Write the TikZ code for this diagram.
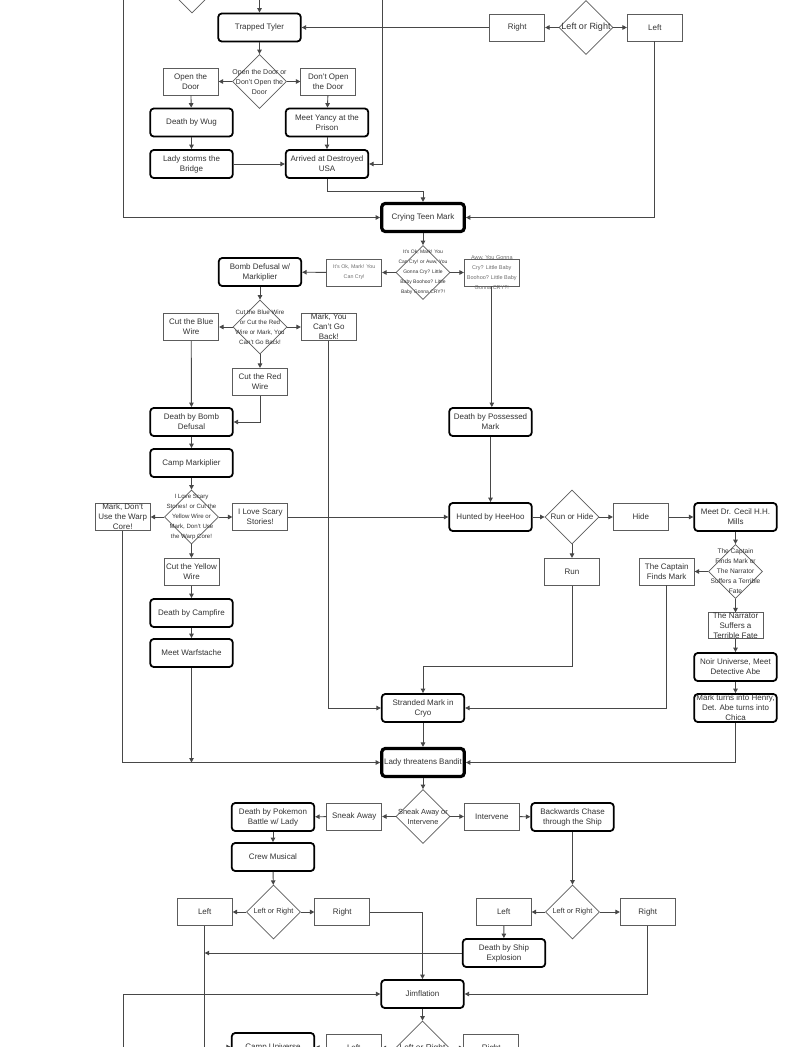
\documentclass[tikz,border=0pt]{standalone}
\usepackage{fontspec}
\setmainfont{Liberation Sans}
\usetikzlibrary{shapes.geometric,arrows.meta,positioning}
\definecolor{inkgray}{HTML}{333333}
\definecolor{linegray}{HTML}{474747}
\definecolor{boxgray}{HTML}{5C5C5C}
\definecolor{faintgray}{HTML}{6E6E6E}

\begin{document}
\begin{tikzpicture}[x=1pt,y=-1pt,
					>={Triangle[length=4.5pt,width=4.5pt]},
					node distance=13.5pt,
					box font/.style={font=\fontsize{8}{10}\selectfont,text=inkgray,align=center},
					plain node/.style={rectangle,draw=boxgray,line width=0.8pt,minimum width=55pt,minimum height=27pt,inner sep=1pt,box font},
					main node/.style={rectangle,rounded corners=3.5pt,draw=black,line width=1.8pt,minimum width=82.5pt,minimum height=28pt,inner sep=1pt,box font},
					big node/.style={main node,line width=3.2pt},
					dec node/.style={diamond,draw=boxgray,line width=0.8pt,minimum width=54pt,minimum height=54pt,inner sep=0pt},
					dec text/.style={align=center,text=inkgray,inner sep=0pt,font=\fontsize{#1}{10}\selectfont},
					link/.style={->,color=linegray,line width=0.9pt}]

  \useasboundingbox (0,0) rectangle (791,1047);
  \clip (0,0) rectangle (791,1047);
  \fill[white] (0,0) rectangle (791,1047);

  % top part, cut by the page edge
  \node[plain node] (TB1) at (123,-14) {};
  \node[dec node] (TD0) at (192,-14) {};
  \node[plain node] (TB2) at (259.5,-14) {};
  \coordinate (topin) at (382,0);

  \node[main node] (TT) at (259.5,27.5) {Trapped Tyler};
  \node[dec node,label={[dec text=9]center:Left or Right}] (D1) at (586,27.5) {};
  \node[plain node] (R1) [left=of D1] {Right};
  \node[plain node] (L1) [right=of D1] {Left};

  \node[dec node,label={[dec text=7]center:{Open the Door or\\Don't Open the\\Door}}] (DOOR) at (259.5,81.5) {};
  \node[plain node] (OPEN) [left=of DOOR] {Open the\\Door};
  \node[plain node] (DONT) [right=of DOOR] {Don't Open\\the Door};
  \node[main node] (WUG) at (191.5,122.5) {Death by Wug};
  \node[main node] (YANCY) at (327,122.5) {Meet Yancy at the\\Prison};
  \node[main node] (BRIDGE) at (191.5,164) {Lady storms the\\Bridge};
  \node[main node] (USA) at (327,164) {Arrived at Destroyed\\USA};

  \node[big node] (CTM) at (423,217.5) {Crying Teen Mark};
  \node[dec node,label={[dec text=5]center:{It's Ok, Mark! You\\Can Cry! or Aww, You\\Gonna Cry? Little\\Baby Boohoo? Little\\Baby Gonna CRY?!}}] (CRY) at (423,272.5) {};
  \node[plain node,label={[dec text=5.3,text=faintgray]center:{It's Ok, Mark! You\\Can Cry!}}] (OK) [left=of CRY] {};
  \node[plain node,label={[dec text=5.5,text=faintgray]center:{Aww, You Gonna\\Cry? Little Baby\\Boohoo? Little Baby\\Gonna CRY?!}}] (AWW) [right=of CRY] {};

  % bomb and camp
  \node[main node] (BOMB) at (260,272) {Bomb Defusal w/\\Markiplier};
  \node[dec node,label={[dec text=6.2]center:{Cut the Blue Wire\\or Cut the Red\\Wire or Mark, You\\Can't Go Back!}}] (WIRE) at (260,327) {};
  \node[plain node] (BLUE) [left=of WIRE] {Cut the Blue\\Wire};
  \node[plain node,label={[dec text=8]center:{Mark, You\\Can't Go\\Back!}}] (BACK) [right=of WIRE] {};
  \node[plain node] (RED) [below=of WIRE] {Cut the Red\\Wire};
  \node[main node] (DBOMB) at (191.5,422) {Death by Bomb\\Defusal};
  \node[main node] (CAMP) at (191.5,463) {Camp Markiplier};
  \node[dec node,label={[dec text=6.1]center:{I Love Scary\\Stories! or Cut the\\Yellow Wire or\\Mark, Don't Use\\the Warp Core!}}] (STORY) at (191.5,517) {};
  \node[plain node,label={[dec text=8]center:{Mark, Don't\\Use the Warp\\Core!}}] (WARP) [left=of STORY] {};
  \node[plain node] (SCARY) [right=of STORY] {I Love Scary\\Stories!};
  \node[plain node] (YELLOW) [below=of STORY] {Cut the Yellow\\Wire};
  \node[main node] (FIRE) at (191.5,613) {Death by Campfire};
  \node[main node] (WARF) at (191.5,653) {Meet Warfstache};

  % heehoo side
  \node[main node] (POSS) at (490.5,422) {Death by Possessed\\Mark};
  \node[main node] (HEEHOO) at (490.5,517) {Hunted by HeeHoo};
  \node[dec node,label={[dec text=8]center:Run or Hide}] (RUNHIDE) at (572,517) {};
  \node[plain node] (HIDE) [right=of RUNHIDE] {Hide};
  \node[plain node] (RUN) [below=of RUNHIDE] {Run};
  \node[main node] (CECIL) at (735.5,517) {Meet Dr. Cecil H.H.\\Mills};
  \node[dec node,label={[dec text=6.6]center:{The Captain\\Finds Mark or\\The Narrator\\Suffers a Terrible\\Fate}}] (FATE) at (735.5,571.5) {};
  \node[plain node] (CAPT) [left=of FATE] {The Captain\\Finds Mark};
  \node[plain node,minimum height=26pt,label={[dec text=8]center:{The Narrator\\Suffers a\\Terrible Fate}}] (NARR) [below=of FATE] {};
  \node[main node] (NOIR) at (735.5,667) {Noir Universe, Meet\\Detective Abe};
  \node[main node,label={[dec text=8]center:{Mark turns into Henry,\\Det. Abe turns into\\Chica}}] (HENRY) at (735.5,708) {};

  \node[main node] (CRYO) at (423,708) {Stranded Mark in\\Cryo};
  \node[big node] (BANDIT) at (423,762.5) {Lady threatens Bandit};

  % ship
  \node[dec node,label={[dec text=7.4]center:{Sneak Away or\\Intervene}}] (SNEAKD) at (423,816.5) {};
  \node[plain node] (SNEAK) [left=of SNEAKD] {Sneak Away};
  \node[plain node] (INTER) [right=of SNEAKD] {Intervene};
  \node[main node] (POKE) at (273,817) {Death by Pokemon\\Battle w/ Lady};
  \node[main node] (CHASE) at (572.5,817) {Backwards Chase\\through the Ship};
  \node[main node] (CREW) at (273,857) {Crew Musical};
  \node[dec node,label={[dec text=7.3]center:Left or Right}] (D2) at (273.5,912) {};
  \node[plain node] (L2) [left=of D2] {Left};
  \node[plain node] (R2) [right=of D2] {Right};
  \node[dec node,label={[dec text=7.3]center:Left or Right}] (D3) at (572.5,912) {};
  \node[plain node] (L3) [left=of D3] {Left};
  \node[plain node] (R3) [right=20pt of D3] {Right};
  \node[main node] (SHIP) at (504,953) {Death by Ship\\Explosion};
  \node[main node] (JIM) at (422.5,994) {Jimflation};

  % bottom part, cut by the page edge
  \node[dec node,label={[dec text=8.4]center:Left or Right}] (D4) at (422.5,1048) {};
  \node[plain node] (L4) [left=of D4] {Left};
  \node[plain node] (R4) [right=of D4] {Right};
  \node[main node] (UNIV) at (273,1047) {Camp Universe};
  \coordinate (botin) at (123,1060);

  \path[link]
    (TB2) edge (TT)
    (D1) edge (R1)
         edge (L1)
    (R1) edge (TT)
    (TT) edge (DOOR)
    (DOOR) edge (OPEN)
           edge (DONT)
    (OPEN) edge (WUG)
    (DONT) edge (YANCY)
    (WUG) edge (BRIDGE)
    (YANCY) edge (USA)
    (BRIDGE) edge (USA)
    (CTM) edge (CRY)
    (CRY) edge (OK)
          edge (AWW)
    (OK) edge (BOMB)
    (BOMB) edge (WIRE)
    (WIRE) edge (BLUE)
           edge (BACK)
           edge (RED)
    (BLUE) edge (DBOMB)
    (DBOMB) edge (CAMP)
    (CAMP) edge (STORY)
    (STORY) edge (WARP)
            edge (SCARY)
            edge (YELLOW)
    (YELLOW) edge (FIRE)
    (FIRE) edge (WARF)
    (SCARY) edge (HEEHOO)
    (POSS) edge (HEEHOO)
    (HEEHOO) edge (RUNHIDE)
    (RUNHIDE) edge (HIDE)
              edge (RUN)
    (HIDE) edge (CECIL)
    (CECIL) edge (FATE)
    (FATE) edge (CAPT)
           edge (NARR)
    (NARR) edge (NOIR)
    (NOIR) edge (HENRY)
    (CRYO) edge (BANDIT)
    (BANDIT) edge (SNEAKD)
    (SNEAKD) edge (SNEAK)
             edge (INTER)
    (SNEAK) edge (POKE)
    (INTER) edge (CHASE)
    (POKE) edge (CREW)
    (CREW) edge (D2)
    (D2) edge (L2)
         edge (R2)
    (CHASE) edge (D3)
    (D3) edge (L3)
         edge (R3)
    (L3) edge (SHIP)
    (JIM) edge (D4)
    (D4) edge (L4)
         edge (R4)
    (L4) edge (UNIV);

  \draw[link] (TB1.south) |- (CTM.west);
  \draw[link] (L1.south) |- (CTM.east);
  \draw[link] (topin) |- (USA.east);
  \draw[link] (USA.south) -- ++(0,13) -| (CTM.north);
  \draw[link] (AWW.south) -- (AWW.south |- POSS.north);
  \draw[link] (RED.south) |- (DBOMB.east);
  \draw[link] (BACK.south) |- (CRYO.west);
  \draw[link] (WARP.south) |- (BANDIT.west);
  \draw[link] (WARF.south) -- (WARF.south |- BANDIT.west);
  \draw[link] (RUN.south) -- ++(0,81) -| (CRYO.north);
  \draw[link] (CAPT.south) |- (CRYO.east);
  \draw[link] (HENRY.south) |- (BANDIT.east);
  \draw[link] (R2.east) -| (JIM.north);
  \draw[link] (SHIP.west) -- (SHIP.west -| L2.south);
  \draw[link] (R3.south) |- (JIM.east);
  \draw[link] (L2.south) |- (UNIV.west);
  \draw[link] (botin) |- (JIM.west);
\end{tikzpicture}
\end{document}
